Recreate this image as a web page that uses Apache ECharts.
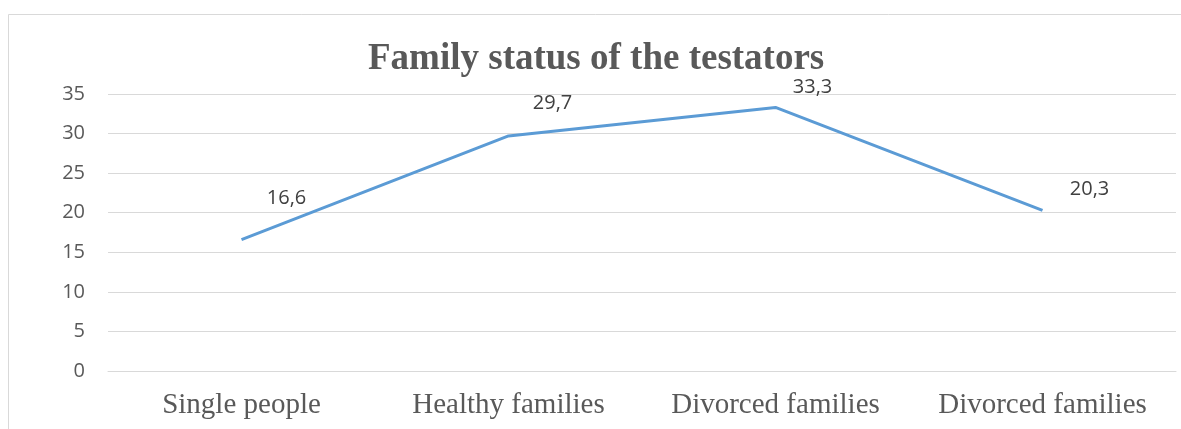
<!DOCTYPE html>
<html>
<head>
<meta charset="utf-8">
<script src="https://cdn.jsdelivr.net/npm/echarts@6/dist/echarts.min.js"></script>
<style>
html,body{margin:0;padding:0;background:#fff;}
#chart{width:1181px;height:429px;}
</style>
</head>
<body>
<div id="chart"></div>
<script>
const categories = ['Single people', 'Healthy families', 'Divorced families', 'Divorced families'];
const values = [16.6, 29.7, 33.3, 20.3];
const valueLabels = ['16,6', '29,7', '33,3', '20,3'];
const titleText = 'Family status of the testators';

const labelOffsets = [[45, -41], [44, -33], [37, -20], [47, -21]];

const chart = echarts.init(document.getElementById('chart'));
chart.setOption({
  animation: false,
  backgroundColor: '#ffffff',
  graphic: [{
    type: 'rect',
    shape: { x: 8.5, y: 14.5, width: 1300, height: 600 },
    style: { fill: 'none', stroke: '#d9d9d9', lineWidth: 1 },
    silent: true
  }],
  title: {
    text: titleText,
    left: 368,
    top: 41,
    padding: 0,
    textStyle: {
      fontFamily: 'Liberation Serif',
      fontWeight: 'bold',
      fontSize: 37,
      color: '#595959'
    }
  },
  grid: { left: 108, right: 5, top: 94, bottom: 58, containLabel: false },
  xAxis: {
    type: 'category',
    data: categories,
    boundaryGap: true,
    axisLine: { show: true, lineStyle: { color: '#d9d9d9', width: 1 } },
    axisTick: { show: false },
    axisLabel: {
      interval: 0,
      margin: 20,
      fontFamily: 'Liberation Serif',
      fontSize: 29,
      color: '#595959'
    }
  },
  yAxis: {
    type: 'value',
    min: 0,
    max: 35,
    interval: 5,
    axisLine: { show: false },
    axisTick: { show: false },
    splitLine: { lineStyle: { color: '#d9d9d9', width: 1 } },
    axisLabel: {
      margin: 23,
      fontFamily: 'Open Sans',
      fontSize: 20,
      color: '#595959'
    }
  },
  series: [{
    type: 'line',
    data: values.map((v, i) => ({
      value: v,
      label: { offset: labelOffsets[i] }
    })),
    symbol: 'circle',
    symbolSize: 2,
    showSymbol: true,
    itemStyle: { color: 'rgba(0,0,0,0)' },
    lineStyle: { color: '#5B9BD5', width: 3 },
    emphasis: { disabled: true },
    label: {
      show: true,
      position: 'inside',
      formatter: p => valueLabels[p.dataIndex],
      fontFamily: 'Open Sans',
      fontSize: 20,
      color: '#404040'
    }
  }]
});
</script>
</body>
</html>
